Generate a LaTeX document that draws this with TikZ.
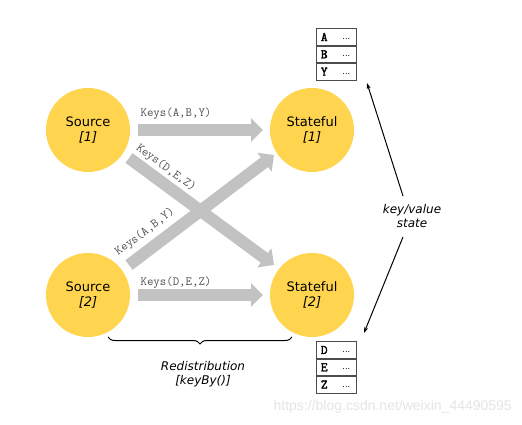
\documentclass[tikz,border=0pt]{standalone}
\usepackage{fontspec}
\setmainfont{DejaVu Sans}
\newfontfamily\keyfont{Latin Modern Mono}
\newfontfamily\cellfont[FakeBold=2.5]{Latin Modern Mono}
\newfontfamily\wmfont{Liberation Sans}
\usetikzlibrary{arrows.meta,decorations.pathreplacing}
\definecolor{opyellow}{HTML}{FFD54F}
\definecolor{arrgray}{HTML}{C2C2C2}
\definecolor{keytext}{HTML}{505050}
\tikzset{
  opnode/.style={circle,fill=opyellow,minimum size=84pt,inner sep=0pt,align=center,font=\fontsize{13}{15}\selectfont},
  flow/.style={draw=arrgray,line width=12pt,-{Triangle[width=23pt,length=12pt]},shorten >=0pt},
  keylab/.style={font=\keyfont\fontsize{12.5}{14}\selectfont,text=keytext,inner sep=0pt},
  cell/.style={draw=black!70,line width=0.6pt,minimum width=40pt,minimum height=16.7pt,inner sep=0pt},
  celltxt/.style={font=\cellfont\fontsize{13}{14}\selectfont,inner sep=0pt},
  kvarrow/.style={draw=black,line width=1pt,-{Stealth[length=6pt,width=4pt]}},
  note/.style={font=\itshape\fontsize{12}{14}\selectfont,align=center}
}
\begin{document}
\begin{tikzpicture}[x=1pt,y=-1pt]
\useasboundingbox[fill=white] (0,0) rectangle (522,425);
% operators
\node[opnode] (s1) at (88,130) {Source\\\textit{[1]}};
\node[opnode] (s2) at (88,295) {Source\\\textit{[2]}};
\node[opnode] (t1) at (312,130) {Stateful\\\textit{[1]}};
\node[opnode] (t2) at (312,295) {Stateful\\\textit{[2]}};
% flow arrows
\coordinate (h1a) at (138,130); \coordinate (h1b) at (263,130);
\coordinate (h2a) at (138,295); \coordinate (h2b) at (263,295);
\coordinate (d1a) at (129,158); \coordinate (d1b) at (274,265);
\coordinate (d2a) at (129,265); \coordinate (d2b) at (274,155);
\draw[flow] (h1a) -- (h1b);
\draw[flow] (h2a) -- (h2b);
\draw[flow] (d1a) -- (d1b);
\draw[flow] (d2a) -- (d2b);
\node[keylab] (k1) at (176,114) {Keys(A,B,Y)};
\node[keylab] (k2) at (176,283) {Keys(D,E,Z)};
\node[keylab,rotate=-36.5] (k3) at (166,168) {Keys(D,E,Z)};
\node[keylab,rotate=37] (k4) at (145,232) {Keys(A,B,Y)};
% state tables
\node[cell] (a1) at (336,37) {}; \node[cell,anchor=north] (a2) at (a1.south) {}; \node[cell,anchor=north] (a3) at (a2.south) {};
\node[cell] (b1) at (336,350) {}; \node[cell,anchor=north] (b2) at (b1.south) {}; \node[cell,anchor=north] (b3) at (b2.south) {};
\foreach \c/\l in {a1/A,a2/B,a3/Y,b1/D,b2/E,b3/Z}{
  \node[celltxt,anchor=west] (\c l) at ([xshift=5pt]\c.west) {\l};
  \node[font=\fontsize{8}{9}\selectfont,inner sep=0pt,anchor=east] (\c d) at ([xshift=-6pt,yshift=-2pt]\c.east) {...};
}
% key/value state
\node[note] (kv) at (412,216) {key/value\\state};
\coordinate (u1) at (403,196); \coordinate (u2) at (367,83);
\coordinate (w1) at (403,237); \coordinate (w2) at (364,333);
\draw[kvarrow] (u1) -- (u2);
\draw[kvarrow] (w1) -- (w2);
% brace
\coordinate (br1) at (108,337); \coordinate (br2) at (292,337);
\draw[line width=1pt,decorate,decoration={brace,mirror,amplitude=7pt}] (br1) -- (br2);
\node[note] (rd) at (203,374) {Redistribution\\{[}keyBy(){]}};
% watermark
\node[font=\wmfont\fontsize{14}{16}\selectfont,text=black!10,anchor=east,inner sep=0pt] (wm) at (512,407) {https://blog.csdn.net/weixin\_44490595};
\end{tikzpicture}
\end{document}
